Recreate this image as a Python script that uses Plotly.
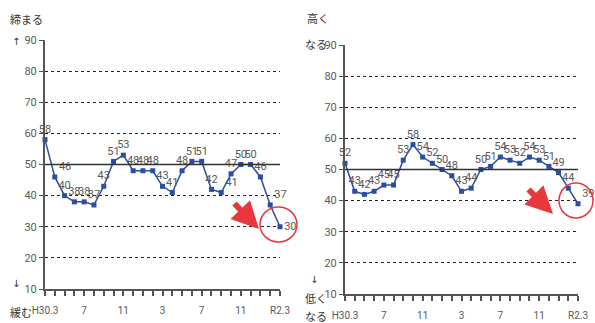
import plotly.graph_objects as go

W, H = 595, 323

months = list(range(25))
tick_text = ["H30.3", "", "", "", "7", "", "", "", "11", "", "", "", "3", "", "", "", "7", "", "", "", "11", "", "", "", "R2.3"]
left_vals = [58, 46, 40, 38, 38, 37, 43, 51, 53, 48, 48, 48, 43, 41, 48, 51, 51, 42, 41, 47, 50, 50, 46, 37, 30]
right_vals = [52, 43, 42, 43, 45, 45, 53, 58, 54, 52, 50, 48, 43, 44, 50, 51, 54, 53, 52, 54, 53, 51, 49, 44, 39]
y_ticks = [10, 20, 30, 40, 50, 60, 70, 80, 90]

def px(x):
    return x / W

def py(y):
    return 1 - y / H

LINE = "#2B4EA2"
TXT = "#595959"
AX = "#555555"
NUM_FONT = "Roboto"
JP_FONT = "Noto Sans CJK JP"

fig = go.Figure()

left_pos = ["top center"] * 25
left_pos[1] = "top right"
left_pos[23] = "top right"
left_pos[24] = "middle right"
left_pos[18] = "top right"
right_pos = ["top center"] * 25
right_pos[24] = "top right"

fig.add_trace(go.Scatter(x=months, y=left_vals, mode="lines+markers+text",
                         text=[str(v) for v in left_vals], textposition=left_pos,
                         textfont=dict(family=NUM_FONT, size=11, color=TXT),
                         line=dict(color=LINE, width=1.5),
                         marker=dict(symbol="square", size=5, color=LINE),
                         cliponaxis=False, xaxis="x", yaxis="y", showlegend=False))
fig.add_trace(go.Scatter(x=months, y=right_vals, mode="lines+markers+text",
                         text=[str(v) for v in right_vals], textposition=right_pos,
                         textfont=dict(family=NUM_FONT, size=11, color=TXT),
                         line=dict(color=LINE, width=1.5),
                         marker=dict(symbol="square", size=5, color=LINE),
                         cliponaxis=False, xaxis="x2", yaxis="y2", showlegend=False))

xcommon = dict(range=[0, 24], tickvals=months, ticktext=tick_text, showline=True,
               linecolor=AX, linewidth=2, ticks="outside", ticklen=5, tickcolor=AX,
               tickwidth=1.5, showgrid=False, zeroline=False, fixedrange=True,
               automargin=False,
               tickfont=dict(family=NUM_FONT, size=10, color=TXT), ticklabelstandoff=6)
ycommon = dict(range=[10, 90], tickvals=y_ticks, showline=True, linecolor=AX, linewidth=2,
               ticks="outside", ticklen=4, tickcolor=AX, showgrid=True, gridcolor="#222222",
               gridwidth=1, griddash="dot", zeroline=False, fixedrange=True,
               automargin=False,
               tickfont=dict(family=NUM_FONT, size=11, color=TXT))

fig.update_layout(
    width=W, height=H, margin=dict(l=0, r=0, t=0, b=0, autoexpand=False),
    paper_bgcolor="white", plot_bgcolor="white",
    xaxis=dict(domain=[px(45), px(280)], anchor="y", **xcommon),
    yaxis=dict(domain=[py(289), py(40)], anchor="x", **ycommon),
    xaxis2=dict(domain=[px(345), px(578)], anchor="y2", **xcommon),
    yaxis2=dict(domain=[py(294), py(45)], anchor="x2", **ycommon),
)

# reference lines at 50
fig.add_shape(type="line", xref="x", yref="y", x0=0, x1=24, y0=50, y1=50,
              line=dict(color="#333333", width=1.5))
fig.add_shape(type="line", xref="x2", yref="y2", x0=0, x1=24, y0=50, y1=50,
              line=dict(color="#333333", width=1.5))

# red circles
RED = "#E8383D"
fig.add_shape(type="circle", xref="paper", yref="paper",
              x0=px(260), x1=px(297), y0=py(242), y1=py(207),
              line=dict(color=RED, width=1.5))
fig.add_shape(type="circle", xref="paper", yref="paper",
              x0=px(559), x1=px(593), y0=py(218), y1=py(183),
              line=dict(color=RED, width=1.5))

# red arrows
for (x0, y0, x1, y1) in [(233, 202, 259, 229), (527, 188, 553, 214)]:
    fig.add_annotation(xref="paper", yref="paper", axref="pixel", ayref="pixel",
                       x=px(x1), y=py(y1), ax=x0 - x1, ay=y0 - y1, text="",
                       showarrow=True, arrowhead=2, arrowsize=0.9, arrowwidth=6,
                       arrowcolor=RED)

def label(x, y, t, size=11, family=JP_FONT):
    fig.add_annotation(xref="paper", yref="paper", x=px(x), y=py(y), text=t,
                       showarrow=False, xanchor="left", yanchor="middle",
                       font=dict(family=family, size=size, color="#333333"))

ARROW_FONT = "DejaVu Sans"
label(8, 19, "締まる")
label(10, 42, "↑", 10, ARROW_FONT)
label(10, 283, "↓", 10, ARROW_FONT)
label(8, 312, "緩む")
label(305, 18, "高く")
label(303, 44, "なる")
label(308, 279, "↓", 10, ARROW_FONT)
label(303, 298, "低く")
label(303, 316, "なる")

fig.write_html("out.html", config={"displayModeBar": False},
               post_script="document.body.style.margin='0';document.body.style.overflow='hidden';")
